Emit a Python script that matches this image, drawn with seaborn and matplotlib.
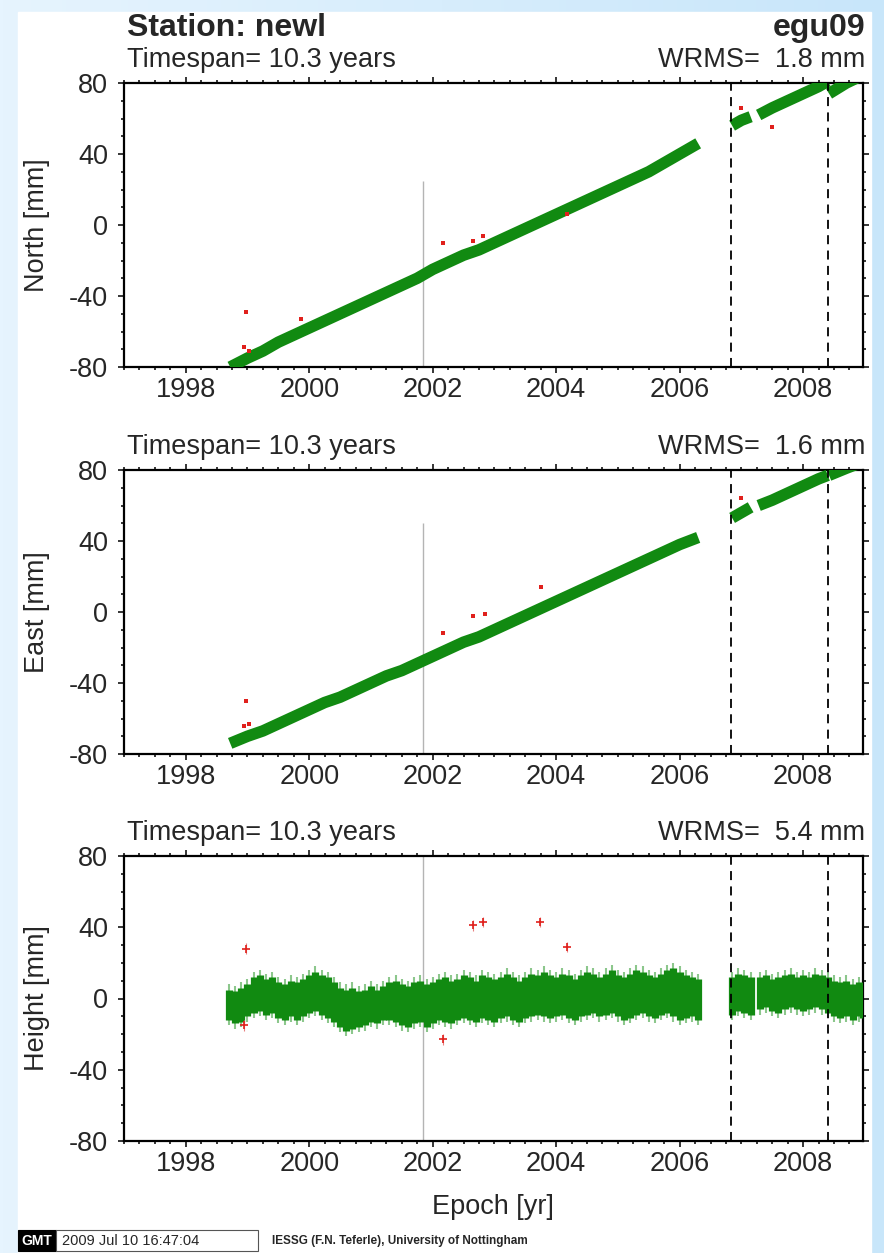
import numpy as np
import pandas as pd
import matplotlib
matplotlib.use("Agg")
import matplotlib.pyplot as plt
from matplotlib.patches import Rectangle
from matplotlib.ticker import MultipleLocator, FuncFormatter
import seaborn as sns

# ---------------- data ----------------
years_major = [1998, 2000, 2002, 2004, 2006, 2008]
y_ticks = [-80, -40, 0, 40, 80]

north_epoch = [1998.72, 1999.0, 1999.25, 1999.5, 1999.75, 2000.0, 2000.25, 2000.5, 2000.75,
               2001.0, 2001.25, 2001.5, 2001.75, 2002.0, 2002.25, 2002.5, 2002.75, 2003.0,
               2003.25, 2003.5, 2003.75, 2004.0, 2004.25, 2004.5, 2004.75, 2005.0, 2005.25,
               2005.5, 2005.75, 2006.0, 2006.3,
               2006.85, 2007.0, 2007.15,
               2007.28, 2007.5, 2007.75, 2008.0, 2008.25, 2008.4,
               2008.42, 2008.7, 2009.0]
north_value = [-80, -75, -71, -66, -62, -58, -54, -50, -46,
               -42, -38, -34, -30, -25, -21, -17, -14, -10,
               -6, -2, 2, 6, 10, 14, 18, 22, 26,
               30, 35, 40, 46,
               56, 59, 61,
               62, 66, 70, 74, 78, 81,
               74, 80, 85]
north_seg = [1] * 31 + [2] * 3 + [3] * 6 + [4] * 3

east_epoch = north_epoch
east_value = [-74, -70, -67, -63, -59, -55, -51, -48, -44,
              -40, -36, -33, -29, -25, -21, -17, -14, -10,
              -6, -2, 2, 6, 10, 14, 18, 22, 26,
              30, 34, 38, 42,
              53, 56, 59,
              60, 63, 67, 71, 75, 77,
              77, 81, 85]
east_seg = north_seg

height_epoch = [1998.7, 1998.8, 1998.9, 1999.0, 1999.1, 1999.2, 1999.3, 1999.4, 1999.5, 1999.6,
                1999.7, 1999.8, 1999.9, 2000.0, 2000.1, 2000.2, 2000.3, 2000.4, 2000.5, 2000.6,
                2000.7, 2000.8, 2000.9, 2001.0, 2001.1, 2001.2, 2001.3, 2001.4, 2001.5, 2001.6,
                2001.7, 2001.8, 2001.9, 2002.0, 2002.1, 2002.2, 2002.3, 2002.4, 2002.5, 2002.6,
                2002.7, 2002.8, 2002.9, 2003.0, 2003.1, 2003.2, 2003.3, 2003.4, 2003.5, 2003.6,
                2003.7, 2003.8, 2003.9, 2004.0, 2004.1, 2004.2, 2004.3, 2004.4, 2004.5, 2004.6,
                2004.7, 2004.8, 2004.9, 2005.0, 2005.1, 2005.2, 2005.3, 2005.4, 2005.5, 2005.6,
                2005.7, 2005.8, 2005.9, 2006.0, 2006.1, 2006.2, 2006.3,
                2006.85, 2006.95, 2007.05, 2007.15,
                2007.3, 2007.4, 2007.5, 2007.6, 2007.7, 2007.8, 2007.9, 2008.0, 2008.1, 2008.2,
                2008.3, 2008.4, 2008.5, 2008.6, 2008.7, 2008.8, 2008.9, 2008.97]
height_high = [5, 4, 6, 8, 12, 13, 11, 12, 9, 8,
               10, 9, 11, 13, 15, 13, 12, 9, 6, 5,
               6, 4, 5, 7, 5, 7, 9, 10, 8, 7,
               9, 10, 8, 9, 11, 12, 10, 11, 13, 12,
               10, 13, 12, 11, 12, 14, 12, 10, 12, 14,
               13, 15, 13, 12, 14, 13, 11, 13, 15, 14,
               12, 14, 16, 13, 12, 14, 16, 15, 13, 12,
               14, 16, 17, 15, 13, 12, 11,
               12, 14, 13, 12,
               12, 13, 11, 12, 13, 14, 12, 13, 12, 14,
               13, 12, 10, 9, 10, 8, 9, 8]
height_low = [-12, -14, -13, -10, -8, -7, -9, -8, -11, -12,
              -10, -12, -10, -8, -7, -9, -11, -13, -16, -18,
              -17, -16, -15, -13, -14, -12, -12, -13, -15, -16,
              -14, -13, -16, -14, -12, -13, -14, -12, -11, -12,
              -13, -11, -12, -13, -11, -10, -12, -13, -11, -10,
              -9, -10, -11, -10, -9, -11, -12, -10, -9, -8,
              -10, -9, -8, -10, -12, -11, -9, -8, -10, -11,
              -9, -8, -10, -12, -11, -10, -12,
              -9, -7, -8, -9,
              -6, -5, -7, -8, -6, -5, -6, -7, -6, -5,
              -6, -8, -10, -11, -10, -12, -10, -11]

north_out_t = [1998.94, 1998.98, 1999.02, 1999.86, 2002.16, 2002.65, 2002.81, 2004.17, 2007.0, 2007.5]
north_out_v = [-69, -49, -71, -53, -10, -9, -6, 6, 66, 55]
east_out_t = [1998.94, 1998.98, 1999.02, 2002.16, 2002.65, 2002.85, 2003.75, 2007.0]
east_out_v = [-64, -50, -63, -12, -2, -1, 14, 64]
height_out_t = [1998.94, 1998.98, 2002.16, 2002.65, 2002.81, 2003.74, 2004.17]
height_out_v = [-15, 28, -23, 41, 43, 43, 29]

equip_change = 2001.84          # grey line
gray_top = [25, 50, 80]         # top of grey line in each panel
breaks = [2006.84, 2008.40]     # dashed lines

panel_labels = ["North [mm]", "East [mm]", "Height [mm]"]
timespan_txt = ["Timespan= 10.3 years"] * 3
wrms_txt = ["WRMS=  1.8 mm", "WRMS=  1.6 mm", "WRMS=  5.4 mm"]

# ---------------- style ----------------
sns.set_theme(style="ticks")
plt.rcParams["font.family"] = ["Liberation Sans", "DejaVu Sans"]
GREEN = "#118a11"
RED = "#e0201c"

W, H = 884, 1253
fig = plt.figure(figsize=(W / 100, H / 100), dpi=100)

def fx(x):
    return x / W

def fy(y):
    return 1 - y / H

# background gradient + white sheet
bg = fig.add_axes([0, 0, 1, 1], zorder=-10)
grad = np.linspace(0, 1, 256)[None, :]
cmap = matplotlib.colors.LinearSegmentedColormap.from_list("bg", ["#e6f4fe", "#c8e6fa"])
bg.imshow(grad, aspect="auto", cmap=cmap, extent=[0, 1, 0, 1])
bg.add_patch(Rectangle((fx(18), 0), fx(871) - fx(18), fy(12), color="white", transform=bg.transAxes))
bg.set_axis_off()

left, right = 124, 863
tops = [83, 470, 856]
bots = [367, 754, 1141]

north_df = pd.DataFrame({"epoch": north_epoch, "value": north_value, "seg": north_seg})
east_df = pd.DataFrame({"epoch": east_epoch, "value": east_value, "seg": east_seg})

axes = []
for i in range(3):
    ax = fig.add_axes([fx(left), fy(bots[i]), fx(right) - fx(left), (bots[i] - tops[i]) / H])
    ax.set_facecolor("white")
    axes.append(ax)

# North / East bands
for ax, df, ot, ov in [(axes[0], north_df, north_out_t, north_out_v),
                       (axes[1], east_df, east_out_t, east_out_v)]:
    sns.lineplot(data=df, x="epoch", y="value", units="seg", estimator=None,
                 color=GREEN, lw=8.3, ax=ax, solid_capstyle="butt", zorder=3)
    sns.scatterplot(x=ot, y=ov, ax=ax, color=RED, s=10, marker="s", linewidth=0, zorder=4)

# Height band
ax = axes[2]
ax.vlines(height_epoch, np.array(height_low) - 3, np.array(height_high) + 3,
          color="#8cc78c", lw=1.5, zorder=2)
ax.vlines(height_epoch, height_low, height_high, color=GREEN, lw=5.2, zorder=3)
ax.errorbar(height_out_t, height_out_v, yerr=3, fmt="none", ecolor="#e88080", elinewidth=0.8, zorder=4)
sns.scatterplot(x=height_out_t, y=height_out_v, ax=ax, color=RED, s=30, marker="+",
                linewidth=1.2, zorder=5)

for i, ax in enumerate(axes):
    ax.set_xlim(1997.0, 2008.97)
    ax.set_ylim(-80, 80)
    ax.vlines(equip_change, -80, gray_top[i], color="#b4b4b4", lw=1.0, zorder=1)
    for b in breaks:
        ax.axvline(b, color="black", lw=1.3, ls=(0, (5, 3.5)), zorder=6)
    ax.set_xticks(years_major)
    ax.set_yticks(y_ticks)
    ax.xaxis.set_minor_locator(MultipleLocator(0.25))
    ax.yaxis.set_minor_locator(MultipleLocator(10))
    ax.xaxis.set_major_formatter(FuncFormatter(lambda v, p: f"{int(round(v))}"))
    ax.yaxis.set_major_formatter(FuncFormatter(lambda v, p: f"{int(round(v))}"))
    ax.tick_params(which="both", direction="out", top=True, right=True,
                   labeltop=False, labelright=False, color="black", width=1.1)
    ax.tick_params(which="major", length=4.5, labelsize=19.5)
    ax.tick_params(which="minor", length=2.2)
    ax.tick_params(axis="x", which="major", pad=3)
    ax.tick_params(axis="y", which="major", pad=7)
    for sp in ax.spines.values():
        sp.set_visible(True)
        sp.set_linewidth(1.6)
        sp.set_color("black")
    ax.set_xlabel("")
    ax.set_ylabel("")
    fig.text(fx(37), fy((tops[i] + bots[i]) / 2), panel_labels[i], rotation=90,
             ha="center", va="center", fontsize=19.5)
    fig.text(fx(127), fy(tops[i] - 16), timespan_txt[i], ha="left", va="baseline", fontsize=19.5)
    fig.text(fx(865), fy(tops[i] - 16), wrms_txt[i], ha="right", va="baseline", fontsize=19.5)

fig.text(fx(127), fy(36), "Station: newl", ha="left", va="baseline", fontsize=23, fontweight="bold")
fig.text(fx(865), fy(36), "egu09", ha="right", va="baseline", fontsize=23, fontweight="bold")
fig.text(fx(493), fy(1207), "Epoch [yr]", ha="center", va="center", fontsize=19.5)

# footer
bg.add_patch(Rectangle((fx(18), fy(1251)), fx(56) - fx(18), fy(1230) - fy(1251),
                       facecolor="black", edgecolor="black", lw=0.8, transform=bg.transAxes))
bg.add_patch(Rectangle((fx(56), fy(1251)), fx(258) - fx(56), fy(1230) - fy(1251),
                       facecolor="white", edgecolor="#555555", lw=0.8, transform=bg.transAxes))
fig.text(fx(37), fy(1241), "GMT", ha="center", va="center", fontsize=10, color="white", fontweight="bold")
fig.text(fx(62), fy(1241), "2009 Jul 10 16:47:04", ha="left", va="center", fontsize=10.5)
fig.text(fx(272), fy(1241), "IESSG (F.N. Teferle), University of Nottingham", ha="left",
         va="center", fontsize=8.5, fontweight="bold")

fig.savefig("out.png", dpi=100)
